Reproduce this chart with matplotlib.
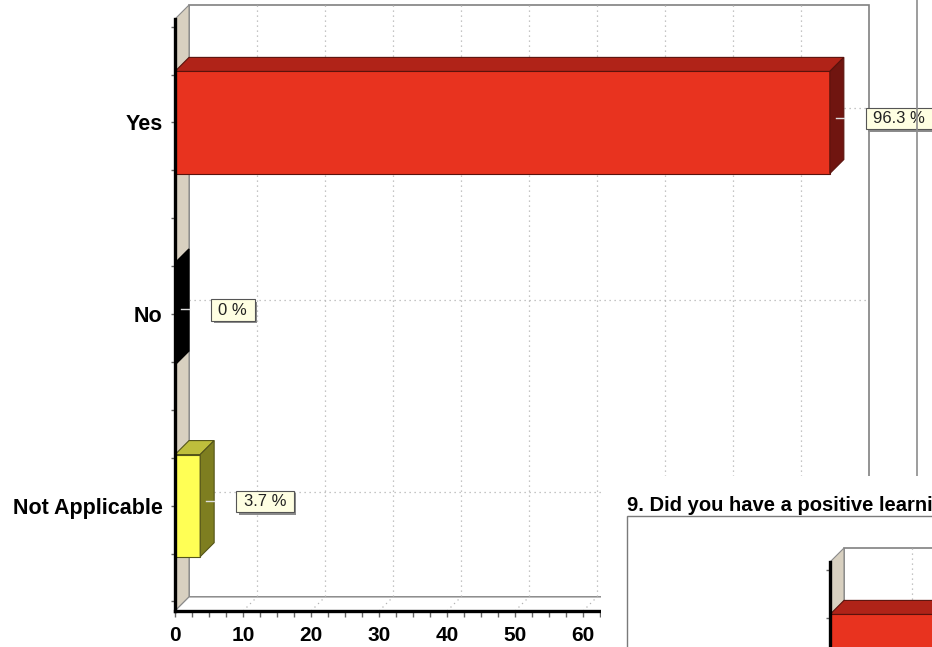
import matplotlib

matplotlib.use("Agg")
import matplotlib.patheffects as pe
import matplotlib.pyplot as plt
import numpy as np
from matplotlib.lines import Line2D
from matplotlib.patches import Polygon, Rectangle
from matplotlib.path import Path

plt.rcParams["font.family"] = ["Liberation Sans", "DejaVu Sans"]

# --- data -------------------------------------------------------------------
CATEGORIES = ["Yes", "No", "Not Applicable"]
PERCENTS = [96.3, 0.0, 3.7]
FRONT_COLORS = ["#E8331F", "#000000", "#FFFF55"]
TOP_COLORS = ["#B02318", "#000000", "#BEBE3C"]
SIDE_COLORS = ["#701510", "#000000", "#7E7E20"]
EDGE_COLORS = ["#5A120C", "#000000", "#55551A"]
X_TICKS = [0, 10, 20, 30, 40, 50, 60, 70, 80, 90, 100]

# next question's chart, only its top-left corner shows in the screenshot
Q9_TITLE = "9. Did you have a positive learning experience?"
Q9_PERCENTS = [100.0, 0.0, 0.0]

# --- layout (pixels of the 932x647 canvas) ----------------------------------
W, H = 932, 647
FRONT_LEFT, FRONT_TOP = 175, 19
FRONT_W, FRONT_H = 680, 592
DEPTH = 14  # 3D depth offset in px
Y_TOP, Y_BOTTOM = -0.54, 2.55
BAR_HEIGHT = 0.533
Q9_SHIFT = (655, 543)
OVERLAY_LEFT, OVERLAY_TOP = 601, 476
LABEL_SIZE = 12
PAD_X, PAD_Y = 0.45, 0.2  # label box padding, fraction of font size

GRID = dict(color="#b3b3b3", lw=0.9, ls=(0, (1, 3)), clip_on=False)


def frac(left, top, width, height):
    """Pixel box (top-left origin) -> figure fraction rect."""
    return [left / W, 1 - (top + height) / H, width / W, height / H]


def label_box(x0, y0, width, height, mutation_size):
    px, py = PAD_X * mutation_size, PAD_Y * mutation_size
    x0, y0 = x0 - px, y0 - py
    x1, y1 = x0 + width + 2 * px, y0 + height + 2 * py
    return Path([(x0, y0), (x1, y0), (x1, y1), (x0, y1), (x0, y0)], closed=True)


def draw_chart(ax, values, show_labels=True):
    x0, x1 = X_TICKS[0], X_TICKS[-1]
    ax.set_xlim(x0, x1)
    ax.set_ylim(Y_BOTTOM, Y_TOP)
    ax.patch.set_visible(False)
    pos = ax.get_position()
    dx = DEPTH * (x1 - x0) / (pos.width * W)
    dy = -DEPTH * (Y_BOTTOM - Y_TOP) / (pos.height * H)
    y0, y1 = Y_TOP, Y_BOTTOM

    # back wall, left wall, floor
    ax.add_patch(Rectangle((x0 + dx, y0 + dy), x1 - x0, y1 - y0, fc="white",
                           ec="#808080", lw=1.2, zorder=1, clip_on=False))
    ax.add_patch(Polygon([(x0, y0), (x0 + dx, y0 + dy), (x0 + dx, y1 + dy), (x0, y1)],
                         fc="#D8D0C0", ec="#8a8a8a", lw=0.8, zorder=1.5, clip_on=False))
    ax.add_patch(Polygon([(x0, y1), (x1, y1), (x1 + dx, y1 + dy), (x0 + dx, y1 + dy)],
                         fc="white", ec="#8a8a8a", lw=0.8, zorder=1.5, clip_on=False))

    for x in X_TICKS[1:-1]:
        ax.plot([x + dx, x + dx], [y0 + dy, y1 + dy], zorder=1.8, **GRID)
        ax.plot([x, x + dx], [y1, y1 + dy], zorder=1.8, **GRID)
    for i in range(len(CATEGORIES)):
        ax.plot([x0 + dx, x1 + dx], [i + dy, i + dy], zorder=1.8, **GRID)

    pad_px = PAD_X * LABEL_SIZE * 100 / 72
    for i, v in enumerate(values):
        top, bot = i - BAR_HEIGHT / 2, i + BAR_HEIGHT / 2
        ec = EDGE_COLORS[i]
        if v > 0:
            ax.add_patch(Rectangle((0, top), v, BAR_HEIGHT, fc=FRONT_COLORS[i], ec=ec,
                                   lw=0.8, zorder=3, clip_on=False))
        ax.add_patch(Polygon([(0, top), (v, top), (v + dx, top + dy), (dx, top + dy)],
                             fc=TOP_COLORS[i], ec=ec, lw=0.8, zorder=3, clip_on=False))
        ax.add_patch(Polygon([(v, top), (v + dx, top + dy), (v + dx, bot + dy), (v, bot)],
                             fc=SIDE_COLORS[i], ec=ec, lw=0.8, zorder=3, clip_on=False))
        ax.plot([v + dx * 0.45, v + dx], [i + dy * 0.35] * 2, color="#dedede", lw=1,
                zorder=3.2, clip_on=False)
        if show_labels:
            t = ax.annotate(f"{v:g} %", xy=(v + dx, i), xytext=(22 + pad_px, 4),
                            textcoords="offset pixels", ha="left", va="center",
                            fontsize=LABEL_SIZE, color="#222222", zorder=6,
                            annotation_clip=False,
                            bbox=dict(boxstyle=label_box, fc="#FFFFE2", ec="#555555", lw=0.8))
            t.get_bbox_patch().set_path_effects(
                [pe.withSimplePatchShadow(offset=(1.8, -1.8), shadow_rgbFace="#8c8c8c", alpha=1)])

    ax.set_yticks(range(len(CATEGORIES)), labels=CATEGORIES, fontsize=15.5, fontweight="bold")
    ax.set_yticks(np.arange(-0.5, 2.51, 0.25), minor=True)
    ax.set_xticks(X_TICKS, labels=[str(x) for x in X_TICKS], fontsize=15, fontweight="bold")
    ax.set_xticks(np.arange(0, 100.1, 2.5), minor=True)
    ax.tick_params(axis="y", which="both", length=3, width=1, color="#666666", pad=6)
    ax.tick_params(axis="x", which="both", length=4, width=1, color="#666666", pad=7)
    if not show_labels:
        ax.tick_params(labelleft=False, labelbottom=False)
    for side in ("top", "right"):
        ax.spines[side].set_visible(False)
    for side in ("left", "bottom"):
        ax.spines[side].set_color("black")
        ax.spines[side].set_linewidth(2.4)
        ax.spines[side].set_zorder(3.5)


fig = plt.figure(figsize=(W / 100, H / 100), dpi=100)

ax = fig.add_axes(frac(FRONT_LEFT, FRONT_TOP, FRONT_W, FRONT_H), zorder=1)
draw_chart(ax, PERCENTS)

# stray frame line of the page to the right of the chart
fig.add_artist(Line2D([917 / W, 917 / W], [1 - OVERLAY_TOP / H, 1], transform=fig.transFigure,
                      color="#8c8c8c", lw=1.2, zorder=2))

# white panel of the next question that overlaps the bottom-right corner
ov = fig.add_axes(frac(OVERLAY_LEFT, OVERLAY_TOP, W - OVERLAY_LEFT, H - OVERLAY_TOP), zorder=3)
ov.set_facecolor("white")
ov.set_xticks([])
ov.set_yticks([])
for s in ov.spines.values():
    s.set_visible(False)

fig.add_artist(Rectangle((627 / W, -0.05), 1, 1.05 - 516 / H, transform=fig.transFigure,
                         fill=False, ec="#7a7a7a", lw=1, zorder=3.5))
fig.text(627 / W, 1 - 511 / H, Q9_TITLE, fontsize=14.5, fontweight="bold",
         va="baseline", ha="left", zorder=4)

ax2 = fig.add_axes(frac(FRONT_LEFT + Q9_SHIFT[0], FRONT_TOP + Q9_SHIFT[1], FRONT_W, FRONT_H),
                   zorder=4)
draw_chart(ax2, Q9_PERCENTS, show_labels=False)

fig.savefig("out.png", dpi=100)
